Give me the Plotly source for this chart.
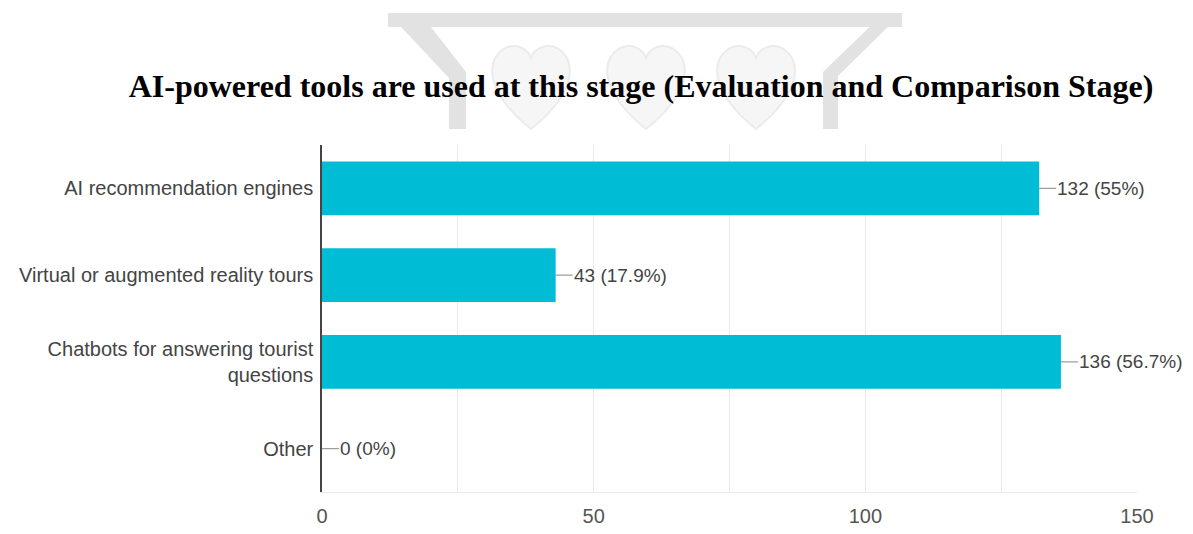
import plotly.graph_objects as go

categories = ["AI recommendation engines", "Virtual or augmented reality tours",
              "Chatbots for answering tourist<br>questions", "Other"]
counts = [132, 43, 136, 0]
percents = ["55%", "17.9%", "56.7%", "0%"]
x_ticks = [0, 50, 100, 150]

OFF = 8  # page body margin
W, H = 1193 - OFF, 534 - OFF
L, R, T, B = 322 - OFF, 1193 - 1137, 145 - OFF, 534 - 492
PW, PH = W - L - R, H - T - B

def px(x):
    return (x - OFF - L) / PW

def py(y):
    return (H - B - (y - OFF)) / PH

fig = go.Figure()
fig.add_trace(go.Bar(
    y=categories, x=counts, orientation="h",
    marker=dict(color="#00bcd4", line=dict(width=0)),
    width=0.62, hoverinfo="skip",
))

for c, v, p in zip(categories, counts, percents):
    fig.add_annotation(
        x=v, y=c, xref="x", yref="y", text=f"{v} ({p})",
        showarrow=True, arrowhead=0, arrowwidth=1.2, arrowcolor="#9e9e9e",
        ax=17, ay=0, xanchor="left", yanchor="middle", borderpad=0,
        font=dict(family="Liberation Sans, Arial", size=19, color="#444444"),
    )

# watermark (background decoration)
band = "#e2e2e2"
shapes = [
    dict(type="path", xref="paper", yref="paper", layer="below",
         path=f"M {px(388)},{py(13)} L {px(902)},{py(13)} L {px(902)},{py(27)} L {px(388)},{py(27)} Z",
         fillcolor=band, line=dict(width=0)),
    dict(type="path", xref="paper", yref="paper", layer="below",
         path=(f"M {px(388)},{py(13)} L {px(420)},{py(13)} L {px(466)},{py(72)} L {px(466)},{py(129)} "
               f"L {px(449)},{py(129)} L {px(449)},{py(78)} Z"),
         fillcolor=band, line=dict(width=0)),
    dict(type="path", xref="paper", yref="paper", layer="below",
         path=(f"M {px(902)},{py(13)} L {px(884)},{py(13)} L {px(823)},{py(72)} L {px(823)},{py(129)} "
               f"L {px(838)},{py(129)} L {px(838)},{py(76)} Z"),
         fillcolor=band, line=dict(width=0)),
]
for cx in [531, 646, 756]:
    bot, hw = 129, 42
    path = (f"M {px(cx)},{py(bot)} "
            f"C {px(cx - hw)},{py(95)} {px(cx - hw)},{py(70)} {px(cx - hw + 6)},{py(58)} "
            f"C {px(cx - 25)},{py(40)} {px(cx - 5)},{py(44)} {px(cx)},{py(58)} "
            f"C {px(cx + 5)},{py(44)} {px(cx + 25)},{py(40)} {px(cx + hw - 6)},{py(58)} "
            f"C {px(cx + hw)},{py(70)} {px(cx + hw)},{py(95)} {px(cx)},{py(bot)} Z")
    shapes.append(dict(type="path", xref="paper", yref="paper", layer="below", path=path,
                       fillcolor="#f6f6f6", line=dict(color="#ebebeb", width=2)))

fig.update_layout(
    width=W, height=H,
    margin=dict(l=L, r=R, t=T, b=B, autoexpand=False),
    paper_bgcolor="white", plot_bgcolor="white",
    showlegend=False,
    shapes=shapes,
    title=dict(
        text="<b>AI-powered tools are used at this stage (Evaluation and Comparison Stage)</b>",
        x=(641 - OFF) / W, xref="container", xanchor="center",
        y=1 - (86 - OFF) / H, yref="container", yanchor="middle",
        font=dict(family="Liberation Serif, Times New Roman", size=32, color="black"),
    ),
    xaxis=dict(
        range=[0, 150], tickvals=x_ticks, ticktext=[str(t) for t in x_ticks],
        showgrid=True, gridcolor="#ebebeb", gridwidth=1,
        minor=dict(dtick=25, showgrid=True, gridcolor="#ebebeb", gridwidth=1),
        zeroline=False, showline=True, linecolor="#ebebeb", linewidth=1,
        ticks="", ticklabelstandoff=6,
        tickfont=dict(family="Liberation Sans, Arial", size=20, color="#555555"),
    ),
    yaxis=dict(
        categoryorder="array", categoryarray=categories, autorange="reversed",
        showgrid=False, zeroline=False,
        showline=True, linecolor="#444444", linewidth=1.5,
        ticks="", ticklabelstandoff=3,
        tickfont=dict(family="Liberation Sans, Arial", size=20, color="#444444"),
    ),
)

fig.write_html("out.html")
